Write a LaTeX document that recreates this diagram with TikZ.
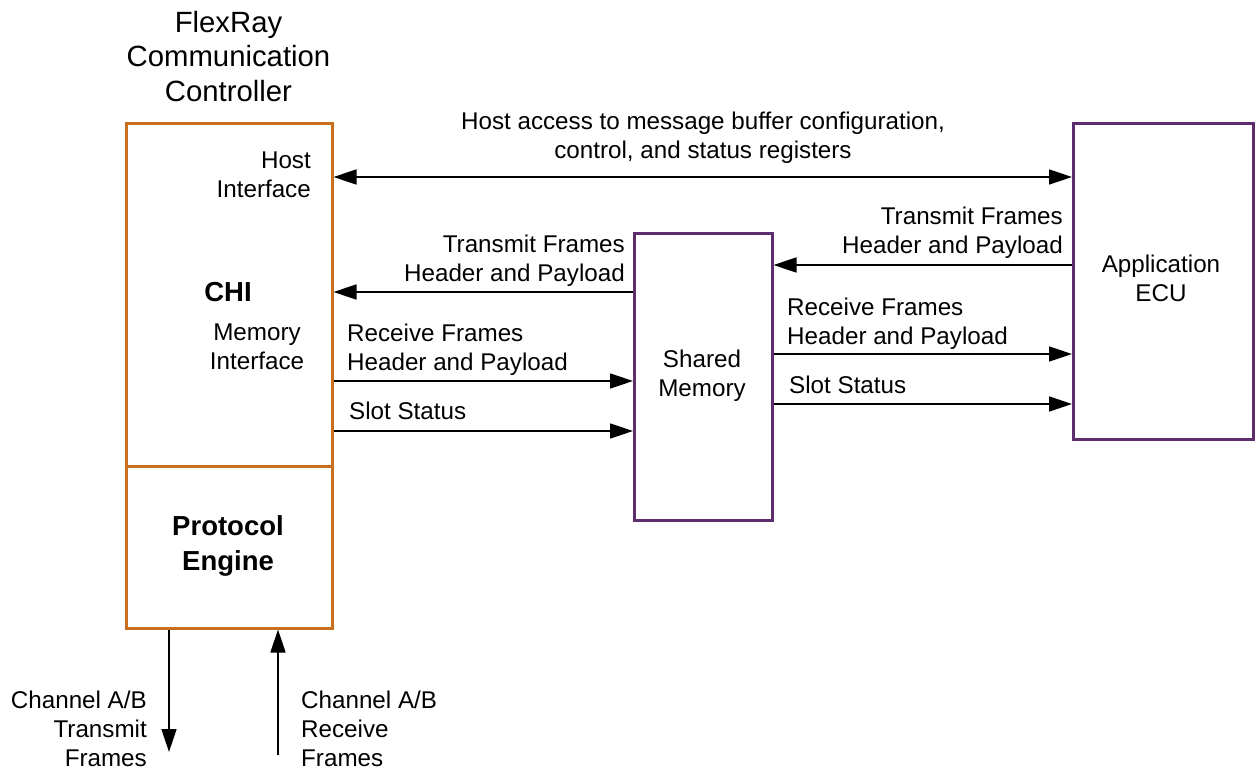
\documentclass[tikz,border=0pt]{standalone}
\usepackage{fontspec}
\setmainfont{Liberation Sans}
\usetikzlibrary{arrows.meta}
\definecolor{ccorange}{HTML}{C8701E}
\definecolor{mempurple}{HTML}{5E2D6E}
\begin{document}
\begin{tikzpicture}[x=1pt,y=-1pt,
  lbl/.style={font=\fontsize{24.2}{29}\selectfont, inner sep=0},
  bold/.style={font=\fontsize{27.5}{35}\selectfont\bfseries, inner sep=0},
  ccbox/.style={draw=ccorange, line width=2.5pt, inner sep=0, anchor=north west},
  mbox/.style={draw=mempurple, line width=2.5pt, inner sep=0, anchor=north west},
  arr/.style={line width=1.5pt, -{Triangle[length=23pt,width=15pt]}},
  darr/.style={line width=1.5pt, {Triangle[length=23pt,width=15pt]}-{Triangle[length=23pt,width=15pt]}}]
\useasboundingbox (0,0) rectangle (1256,771);

% boxes
\node[ccbox, minimum width=206pt, minimum height=343pt] (chi) at (125,122) {};
\node[ccbox, minimum width=206pt, minimum height=162pt] (pe) at (125,465) {};
\node[mbox, minimum width=138pt, minimum height=287pt] (sm) at (633,232) {};
\node[mbox, minimum width=180pt, minimum height=316pt] (app) at (1072,122) {};

% title
\node[font=\fontsize{29.3}{34.5}\selectfont, inner sep=0, anchor=north, align=center] (title) at (228.5,11) {FlexRay\\Communication\\Controller};

% texts in boxes
\node[lbl, anchor=north east, align=right] (hif) at (311,152) {Host\\Interface};
\node[bold, anchor=north] (chil) at (228,282) {CHI};
\node[lbl, anchor=north, align=center] (mif) at (257,324) {Memory\\Interface};
\node[bold, anchor=north, align=center] (pel) at (228,515) {Protocol\\Engine};
\node[lbl, anchor=north, align=center] (sml) at (702,350) {Shared\\Memory};
\node[lbl, anchor=north, align=center] (appl) at (1161,255) {Application\\ECU};

% host access
\draw[darr] (chi.east |- 0,177) -- (app.west |- 0,177);
\node[lbl, anchor=north, align=center] (hostl) at (703,112) {Host access to message buffer configuration,\\control, and status registers};

% CHI <-> shared memory
\draw[arr] (sm.west |- 0,292) -- (chi.east |- 0,292);
\node[lbl, anchor=north east, align=right] (tx1) at (625,235) {Transmit Frames\\Header and Payload};
\draw[arr] (chi.east |- 0,381) -- (sm.west |- 0,381);
\node[lbl, anchor=north west, align=left] (rx1) at (347,324) {Receive Frames\\Header and Payload};
\draw[arr] (chi.east |- 0,431) -- (sm.west |- 0,431);
\node[lbl, anchor=north west] (ss1) at (349,402) {Slot Status};

% shared memory <-> app
\draw[arr] (app.west |- 0,265) -- (sm.east |- 0,265);
\node[lbl, anchor=north east, align=right] (tx2) at (1063,207) {Transmit Frames\\Header and Payload};
\draw[arr] (sm.east |- 0,354) -- (app.west |- 0,354);
\node[lbl, anchor=north west, align=left] (rx2) at (787,298) {Receive Frames\\Header and Payload};
\draw[arr] (sm.east |- 0,404) -- (app.west |- 0,404);
\node[lbl, anchor=north west] (ss2) at (789,376) {Slot Status};

% channel arrows
\coordinate (txend) at (169,752);
\coordinate (rxstart) at (278,755);
\draw[arr] (pe.south -| txend) -- (txend);
\draw[arr] (rxstart) -- (pe.south -| rxstart);
\node[lbl, anchor=north east, align=right] (chtx) at (147,691) {Channel A/B\\Transmit\\Frames};
\node[lbl, anchor=north west, align=left] (chrx) at (301,691) {Channel A/B\\Receive\\Frames};
\end{tikzpicture}
\end{document}
